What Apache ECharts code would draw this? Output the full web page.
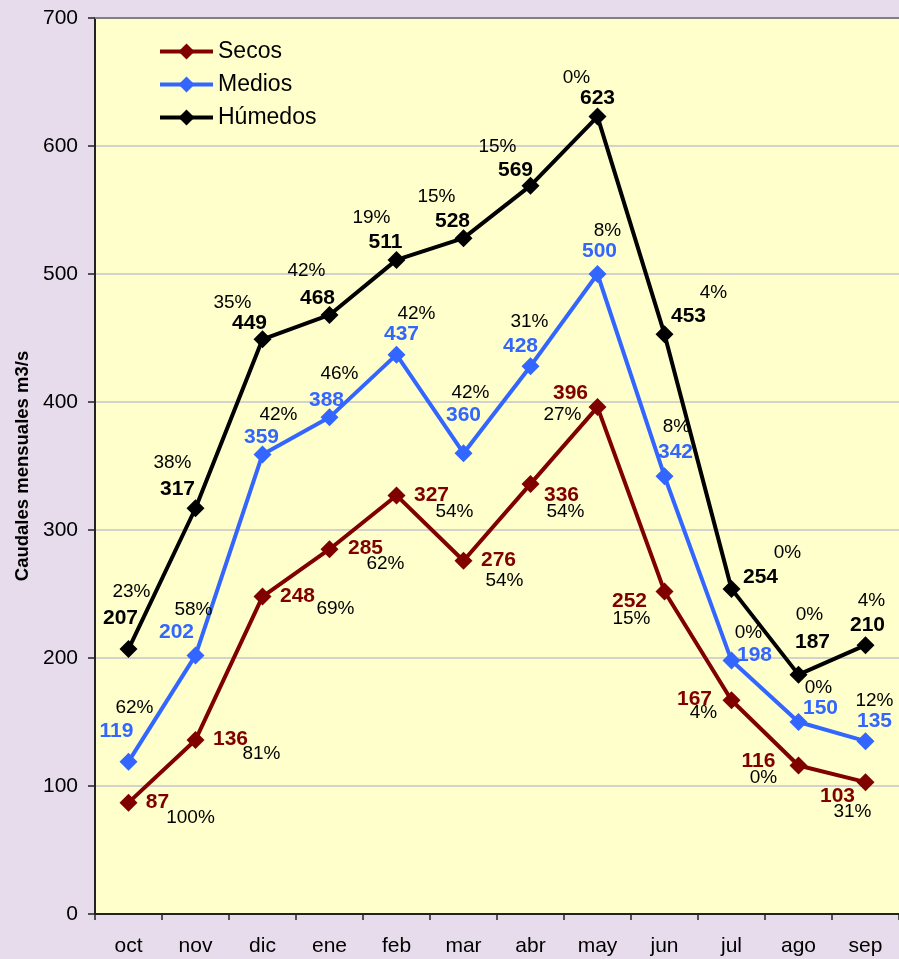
<!DOCTYPE html>
<html>
<head>
<meta charset="utf-8">
<script src="https://cdn.jsdelivr.net/npm/echarts@6/dist/echarts.min.js"></script>
<style>
html,body{margin:0;padding:0;background:#E7DCEB;}
#c{width:899px;height:959px;}
</style>
</head>
<body>
<div id="c"></div>
<script>
// ---- data ----
const categories = ['oct','nov','dic','ene','feb','mar','abr','may','jun','jul','ago','sep'];
const secos   = [87, 136, 248, 285, 327, 276, 336, 396, 252, 167, 116, 103];
const medios  = [119, 202, 359, 388, 437, 360, 428, 500, 342, 198, 150, 135];
const humedos = [207, 317, 449, 468, 511, 528, 569, 623, 453, 254, 187, 210];
const secosPct   = ['100%','81%','69%','62%','54%','54%','54%','27%','15%','4%','0%','31%'];
const mediosPct  = ['62%','58%','42%','46%','42%','42%','31%','8%','8%','0%','0%','12%'];
const humedosPct = ['23%','38%','35%','42%','19%','15%','15%','0%','4%','0%','0%','4%'];
const yTicks = [0, 100, 200, 300, 400, 500, 600, 700];

// ---- label layout (pixel offsets from each point) ----
const secosValOff = [[29,0],[35,-1],[35,0],[36,-1],[35,0],[35,-1],[31,11],[-27,-14],[-35,10],[-37,-1],[-40,-4],[-28,14]];
const secosPctOff = [[62,15],[66,14],[73,12],[56,15],[58,16],[41,20],[35,28],[-35,8],[-33,27],[-28,13],[-35,12],[-13,30]];
const mediosValOff = [[-12,-30],[-19,-23],[-1,-17],[-3,-17],[5,-20],[0,-38],[-10,-20],[2,-23],[11,-24],[23,-5],[22,-14],[9,-20]];
const mediosPctOff = [[6,-54],[-2,-46],[16,-40],[10,-44],[20,-41],[7,-60],[-1,-44],[10,-43],[12,-49],[17,-28],[20,-34],[9,-40]];
const humedosValOff = [[-8,-31],[-18,-19],[-13,-16],[-12,-17],[-11,-18],[-11,-17],[-15,-15],[0,-18],[24,-18],[29,-12],[14,-32],[2,-20]];
const humedosPctOff = [[3,-57],[-23,-45],[-30,-37],[-23,-44],[-25,-42],[-27,-41],[-33,-39],[-21,-39],[49,-41],[56,-36],[11,-60],[6,-44]];

const FONT = "'Liberation Sans', Arial, sans-serif";

function valData(vals, offs){
  return vals.map((v,i)=>({value:v, label:{offset:offs[i]}}));
}
function pctData(vals, pcts, offs){
  return vals.map((v,i)=>({value:v, label:{offset:offs[i], formatter:pcts[i]}}));
}
function mainSeries(name, vals, offs, color){
  return {
    name, type:'line', data: valData(vals, offs),
    symbol:'diamond', symbolSize:[18,18], z:3,
    lineStyle:{color, width:4},
    itemStyle:{color},
    label:{show:true, position:'inside', align:'center', verticalAlign:'middle',
      color, fontWeight:'bold', fontSize:21, fontFamily:FONT, formatter:'{c}'},
    animation:false
  };
}
function pctSeries(name, vals, pcts, offs){
  return {
    name: name+'_pct', type:'line', data: pctData(vals, pcts, offs),
    symbol:'circle', symbolSize:1, silent:true, z:4,
    lineStyle:{opacity:0, width:0},
    itemStyle:{color:'rgba(0,0,0,0)'},
    label:{show:true, position:'inside', align:'center', verticalAlign:'middle',
      color:'#000', fontSize:19, fontFamily:FONT},
    emphasis:{disabled:true},
    animation:false
  };
}

const chart = echarts.init(document.getElementById('c'));
chart.setOption({
  backgroundColor:'#E7DCEB',
  animation:false,
  textStyle:{fontFamily:FONT},
  grid:{left:95, top:18, width:806, height:896, show:true, backgroundColor:'#FFFFCC', borderWidth:0, containLabel:false},
  legend:{
    data:['Secos','Medios','Húmedos'],
    orient:'vertical', left:153, top:35,
    itemWidth:53, itemHeight:20, itemGap:10,
    lineStyle:{width:4},
    textStyle:{fontSize:23, color:'#000', fontFamily:FONT, lineHeight:23},
    selectedMode:false
  },
  xAxis:[{
    type:'category', data:categories, boundaryGap:true,
    axisLine:{lineStyle:{color:'#222', width:2}},
    axisTick:{show:true, length:6, lineStyle:{color:'#222', width:1.5}},
    axisLabel:{fontSize:21, color:'#000', margin:22, fontFamily:FONT},
    splitLine:{show:false}
  },{
    type:'category', data:categories, position:'top', boundaryGap:true,
    axisLine:{show:true, lineStyle:{color:'#808080', width:2}},
    axisTick:{show:false}, axisLabel:{show:false}, splitLine:{show:false}
  }],
  yAxis:{
    type:'value', min:yTicks[0], max:yTicks[yTicks.length-1], interval:100,
    name:'Caudales mensuales m3/s', nameLocation:'middle', nameGap:63, nameRotate:90,
    nameTextStyle:{fontSize:18.5, fontWeight:'bold', color:'#000', fontFamily:FONT},
    axisLine:{show:true, lineStyle:{color:'#222', width:2}},
    axisTick:{show:true, length:7, lineStyle:{color:'#222', width:1.5}},
    axisLabel:{fontSize:21, color:'#000', margin:17, fontFamily:FONT},
    splitLine:{show:true, lineStyle:{color:'#C4C4CC', width:1.5}}
  },
  series:[
    mainSeries('Secos', secos, secosValOff, '#800000'),
    mainSeries('Medios', medios, mediosValOff, '#3366FF'),
    mainSeries('Húmedos', humedos, humedosValOff, '#000000'),
    pctSeries('Secos', secos, secosPct, secosPctOff),
    pctSeries('Medios', medios, mediosPct, mediosPctOff),
    pctSeries('Húmedos', humedos, humedosPct, humedosPctOff)
  ]
});
</script>
</body>
</html>
